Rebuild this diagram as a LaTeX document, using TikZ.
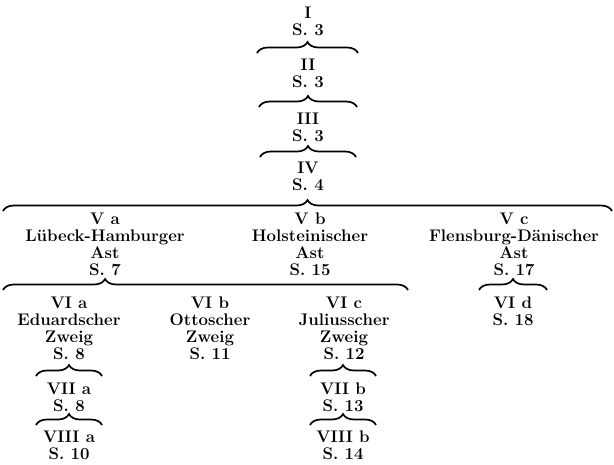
\documentclass[tikz,border=0pt]{standalone}
\usepackage{tikz}
\usetikzlibrary{decorations.pathreplacing}

\tikzset{
  stamm/.style={align=center, inner sep=0pt, anchor=north, font=\bfseries\fontsize{16.8}{17}\selectfont},
  klammer/.style={decorate, decoration={brace, amplitude=11pt, aspect=#1}, line width=1.7pt},
  klammer/.default=0.5
}

\begin{document}
\begin{tikzpicture}[x=1pt,y=-1pt]
  \useasboundingbox (0,0) rectangle (614,464);
  % Stamm
  \node[stamm] (I) at (308,7) {I\\S. 3};
  \node[stamm] (II) at (308,59) {II\\S. 3};
  \node[stamm] (III) at (308,113) {III\\S. 3};
  \node[stamm] (IV) at (308,162) {IV\\S. 4};
  % Aeste
  \node[stamm] (Va) at (105,213) {V a\\Lübeck-Hamburger\\Ast\\S. 7};
  \node[stamm] (Vb) at (310,213) {V b\\Holsteinischer\\Ast\\S. 15};
  \node[stamm] (Vc) at (514,213) {V c\\Flensburg-Dänischer\\Ast\\S. 17};
  % Zweige
  \node[stamm] (VIa) at (69,297) {VI a\\Eduardscher\\Zweig\\S. 8};
  \node[stamm] (VIb) at (210,297) {VI b\\Ottoscher\\Zweig\\S. 11};
  \node[stamm] (VIc) at (344,297) {VI c\\Juliusscher\\Zweig\\S. 12};
  \node[stamm] (VId) at (513,297) {VI d\\S. 18};
  \node[stamm] (VIIa) at (69,383) {VII a\\S. 8};
  \node[stamm] (VIIb) at (343,383) {VII b\\S. 13};
  \node[stamm] (VIIIa) at (69,431) {VIII a\\S. 10};
  \node[stamm] (VIIIb) at (343,431) {VIII b\\S. 14};

  \coordinate (k1l) at (257,53);  \coordinate (k1r) at (358,53);
  \coordinate (k2l) at (259,107); \coordinate (k2r) at (357,107);
  \coordinate (k3l) at (260,157); \coordinate (k3r) at (356,157);
  \coordinate (k4l) at (3,211);   \coordinate (k4r) at (612,211);
  \coordinate (k5l) at (3,290);   \coordinate (k5r) at (408,290);
  \coordinate (k6l) at (479,290); \coordinate (k6r) at (547,290);
  \coordinate (k7l) at (36,376);  \coordinate (k7r) at (102,376);
  \coordinate (k8l) at (36,425);  \coordinate (k8r) at (102,425);
  \coordinate (k9l) at (310,376); \coordinate (k9r) at (376,376);
  \coordinate (k10l) at (310,425); \coordinate (k10r) at (376,425);

  \draw[klammer] (k1l) -- (k1r);
  \draw[klammer] (k2l) -- (k2r);
  \draw[klammer] (k3l) -- (k3r);
  \draw[klammer] (k4l) -- (k4r);
  \draw[klammer=0.252] (k5l) -- (k5r);
  \draw[klammer] (k6l) -- (k6r);
  \draw[klammer] (k7l) -- (k7r);
  \draw[klammer] (k8l) -- (k8r);
  \draw[klammer] (k9l) -- (k9r);
  \draw[klammer] (k10l) -- (k10r);
\end{tikzpicture}
\end{document}
